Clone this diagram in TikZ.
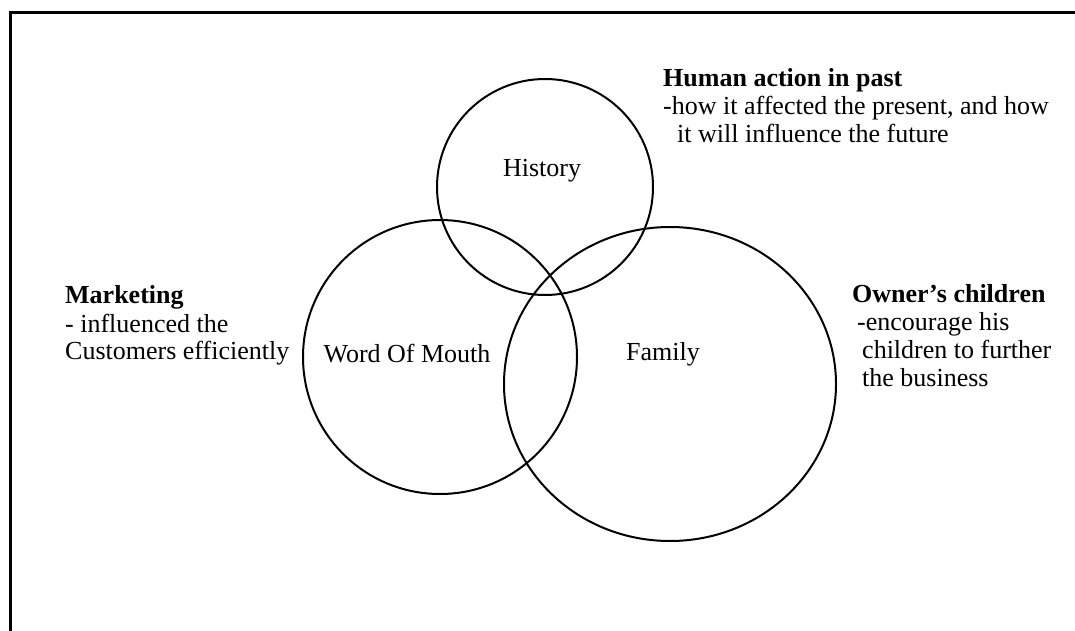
\documentclass[tikz,border=0pt]{standalone}
\usepackage{fontspec}
\setmainfont{Liberation Serif}
\begin{document}
\begin{tikzpicture}[x=1pt,y=-1pt,
  ring/.style={draw=black,line width=2pt},
  lbl/.style={font=\fontsize{26}{28}\selectfont,inner sep=0pt,anchor=base west},
  head/.style={lbl,font=\fontsize{26}{28}\selectfont\bfseries},
  ctr/.style={font=\fontsize{26}{28}\selectfont,inner sep=0pt}]
  \useasboundingbox (0,0) rectangle (1075,631);
  % frame: only top and left edges are visible
  \draw[line width=3pt,line cap=rect] (10.5,631) -- (10.5,13) -- (1075,13);

  % the three sets
  \draw[ring] (545,187) circle (108);
  \draw[ring] (440,357) circle (137);
  \draw[ring] (670,384) ellipse (166 and 157);

  \node[ctr] (hist) at (542,171) {History};
  \node[ctr] (wom)  at (407,354) {Word Of Mouth};
  \node[ctr] (fam)  at (663,354) {Family};

  % notes
  \node[head] (h1) at (663,87)  {Human action in past};
  \node[lbl]  (h2) at (663,115) {-how it affected the present, and how};
  \node[lbl]  (h3) at (677,143) {it will influence the future};

  \node[head] (m1) at (65,303) {Marketing};
  \node[lbl]  (m2) at (65,332) {- influenced the};
  \node[lbl]  (m3) at (65,359) {Customers efficiently};

  \node[head] (o1) at (852,302) {Owner’s children};
  \node[lbl]  (o2) at (857,330) {-encourage his};
  \node[lbl]  (o3) at (862,358) {children to further};
  \node[lbl]  (o4) at (862,386) {the business};
\end{tikzpicture}
\end{document}
